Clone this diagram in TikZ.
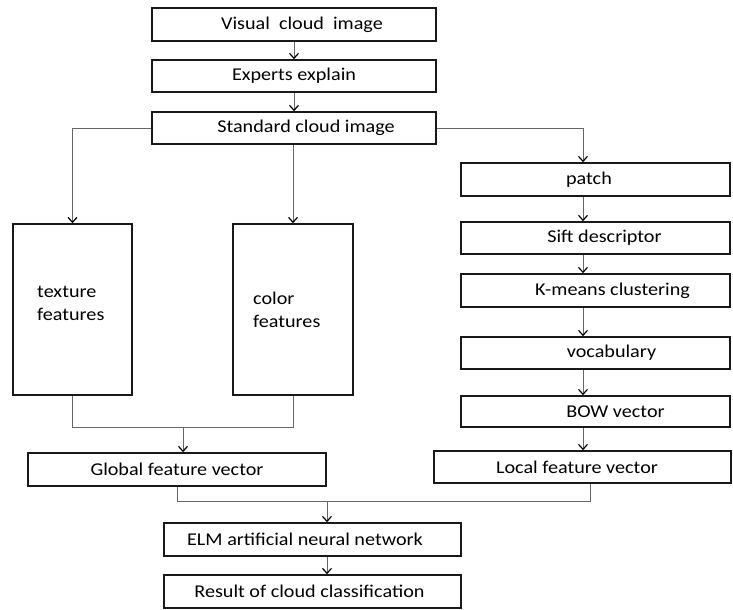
\documentclass[tikz,border=0pt]{standalone}
\usepackage{fontspec}
\setmainfont{Carlito}[FakeStretch=1.12]
\usetikzlibrary{arrows.meta}
\begin{document}
\begin{tikzpicture}[x=1bp,y=-1bp,
  box/.style={draw=black!90, line width=1.6bp, inner sep=0pt, text=black,
    font=\fontsize{18bp}{23bp}\selectfont},
  lbl/.style={inner sep=0pt, align=left, text=black,
    font=\fontsize{18bp}{23bp}\selectfont},
  line/.style={draw=black!60, line width=0.9bp},
  conn/.style={line, -{Straight Barb[length=5bp,width=9bp,line width=1.2bp,color=black]}}]
\useasboundingbox (0,0) rectangle (733,610);

% top chain
\node[box, minimum width=284bp, minimum height=33bp] (vis) at (294,24.5) {\hspace*{16bp}Visual\ \ cloud\ \ image};
\node[box, minimum width=284bp, minimum height=32bp] (exp) at (294,76) {Experts explain};
\node[box, minimum width=284bp, minimum height=32bp] (std) at (294,128) {\hspace*{24bp}Standard cloud image};

% right chain
\node[box, minimum width=269bp, minimum height=33bp] (patch) at (595.5,179.5) {patch\hspace*{13bp}};
\node[box, minimum width=269bp, minimum height=32bp] (sift) at (595.5,238) {\hspace*{18bp}Sift descriptor};
\node[box, minimum width=269bp, minimum height=33bp] (kmeans) at (595.5,290.5) {\hspace*{34bp}K-means clustering};
\node[box, minimum width=269bp, minimum height=32bp] (vocab) at (595.5,353) {\hspace*{32bp}vocabulary};
\node[box, minimum width=269bp, minimum height=31bp] (bow) at (595.5,411.5) {\hspace*{40bp}BOW vector};
\node[box, minimum width=297bp, minimum height=32bp] (local) at (582.5,467) {Local feature vector\hspace*{11bp}};

% left tall boxes
\node[box, minimum width=119bp, minimum height=171bp] (texture) at (72.5,309.5) {};
\node[box, minimum width=120bp, minimum height=171bp] (color) at (293,309.5) {};
\node[lbl, anchor=west] (texlbl) at (37,303) {texture\\features};
\node[lbl, anchor=west] (collbl) at (253,310) {color\\features};

% bottom
\node[box, minimum width=298bp, minimum height=33bp] (global) at (177,469.5) {Global feature vector};
\node[box, minimum width=297bp, minimum height=33bp] (elm) at (312.5,539.5) {ELM artificial neural network\hspace*{15bp}};
\node[box, minimum width=297bp, minimum height=33bp] (result) at (312.5,591.5) {Result of cloud classification\hspace*{6bp}};

% helper coordinates
\coordinate (pc) at (583,0);
\coordinate (gm) at (183,427);
\coordinate (lx) at (590,0);
\coordinate (lm) at (327,501);

% connectors
\draw[conn] (vis) -- (exp);
\draw[conn] (exp) -- (std);
\draw[conn] (std.west) -| (texture.north);
\draw[conn] (color.north |- std.south) -- (color.north);
\draw[conn] (std.east) -| (patch.north -| pc);
\draw[conn] (patch.south -| pc) -- (sift.north -| pc);
\draw[conn] (sift.south -| pc) -- (kmeans.north -| pc);
\draw[conn] (kmeans.south -| pc) -- (vocab.north -| pc);
\draw[conn] (vocab.south -| pc) -- (bow.north -| pc);
\draw[conn] (bow.south -| pc) -- (local.north -| pc);

\draw[line] (texture.south) -- (texture.south |- gm) -- (color.south |- gm) -- (color.south);
\draw[conn] (gm) -- (gm |- global.north);

\draw[line] (global.south) -- (global.south |- lm) -- (lx |- lm) -- (local.south -| lx);
\draw[conn] (lm) -- (lm |- elm.north);
\draw[conn] (elm.south -| lm) -- (result.north -| lm);
\end{tikzpicture}
\end{document}
